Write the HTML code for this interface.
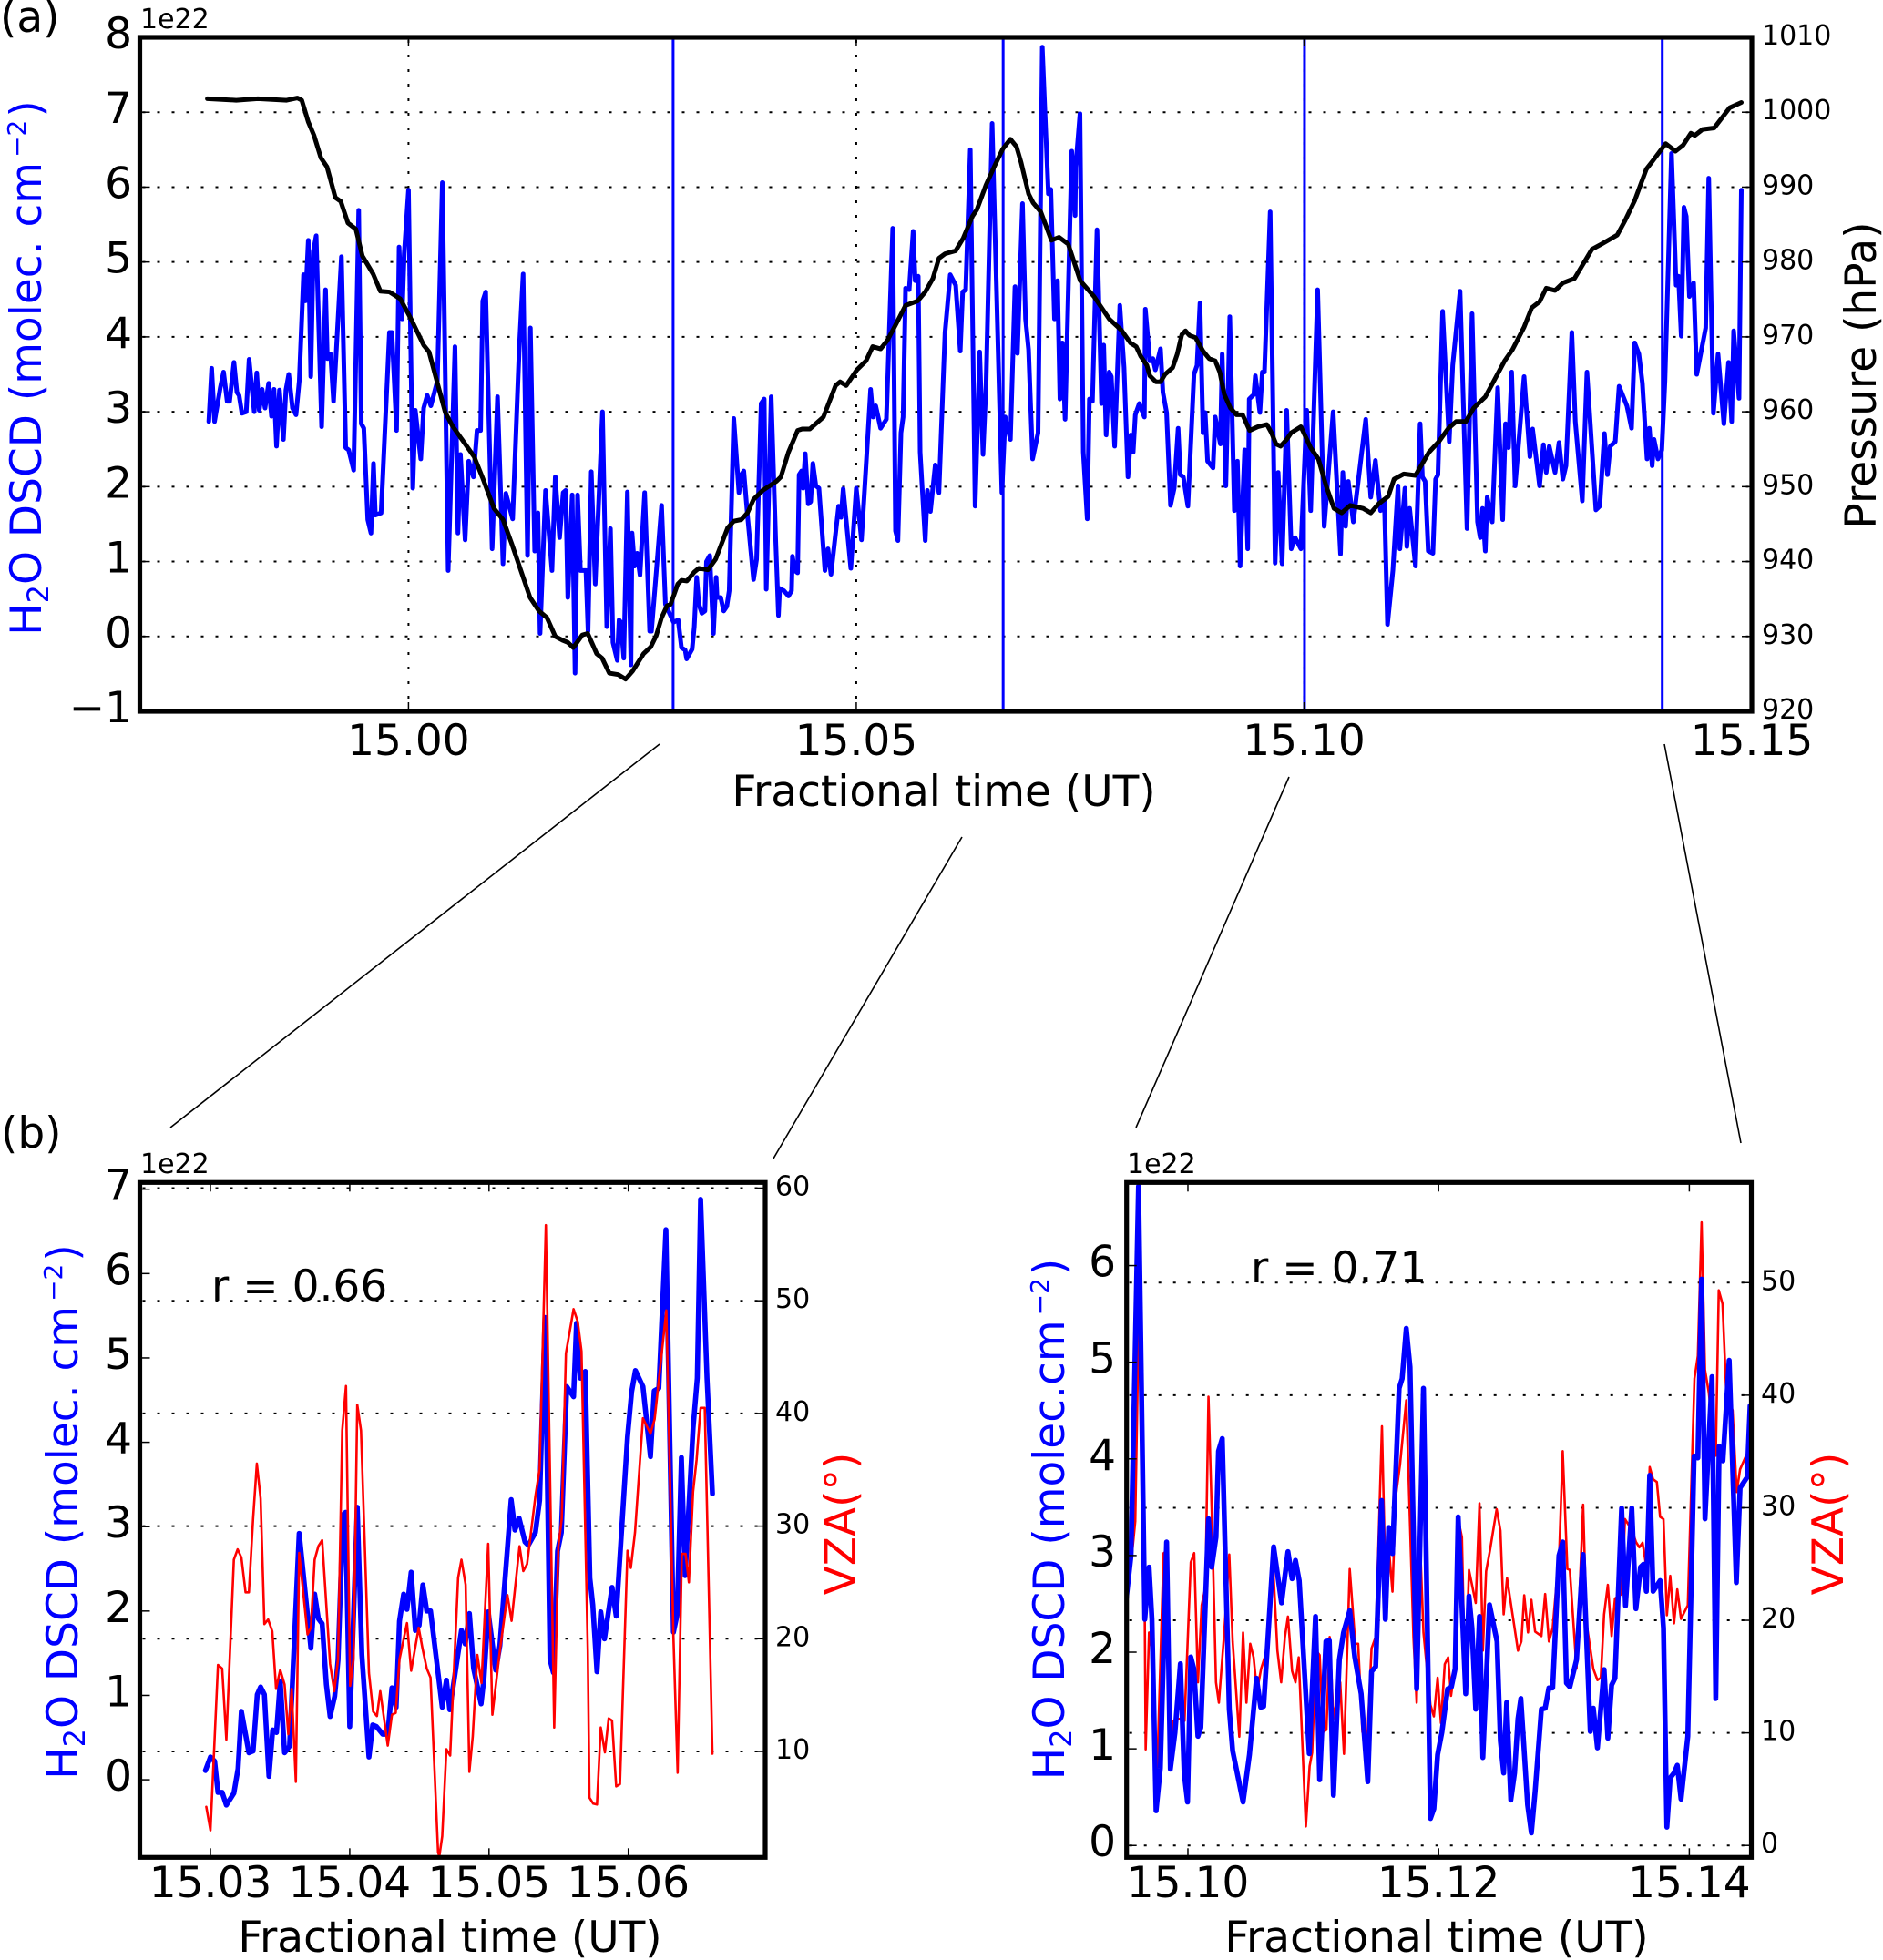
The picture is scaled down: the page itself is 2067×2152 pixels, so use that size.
<!DOCTYPE html>
<html lang="en">
<head>
<meta charset="utf-8">
<title>H2O DSCD, pressure and VZA time series</title>
<style>
html,body{margin:0;padding:0;background:#fff;}
svg{display:block;}
text{font-family:"DejaVu Sans","Liberation Sans",sans-serif;fill:#000;}
</style>
</head>
<body>
<svg id="figure" xmlns="http://www.w3.org/2000/svg" width="2067" height="2152" viewBox="0 0 2067 2152">
<rect x="0" y="0" width="2067" height="2152" fill="#fff"/>
<defs>
<clipPath id="clip-a"><rect x="153.5" y="41" width="1769.5" height="740"/></clipPath>
<clipPath id="clip-b1"><rect x="153.5" y="1298.3" width="686.5" height="741"/></clipPath>
<clipPath id="clip-b2"><rect x="1236.7" y="1298.3" width="685.8" height="741"/></clipPath>
</defs>

<text x="0" y="35" font-size="47">(a)</text>
<text x="1" y="1260" font-size="47">(b)</text>

<g id="panel-a"></g>
<g id="panel-b1"></g>
<g id="panel-b2"></g>

<text x="154" y="31" font-size="30">1e22</text>
<text x="154" y="1288" font-size="30">1e22</text>
<text x="1237" y="1288" font-size="30">1e22</text>

<text transform="translate(45,404) rotate(-90)" text-anchor="middle" font-size="47" style="fill:#0000ff">H<tspan font-size="32" dy="8" style="fill:#0000ff">2</tspan><tspan dy="-8" style="fill:#0000ff">O DSCD (molec. cm</tspan><tspan font-size="28" dy="-17" dx="5" style="fill:#0000ff">−2</tspan><tspan dy="17" dx="3" style="fill:#0000ff">)</tspan></text>
<text transform="translate(2059,412) rotate(-90)" text-anchor="middle" font-size="47">Pressure (hPa)</text>
<text x="1036" y="885" text-anchor="middle" font-size="47">Fractional time (UT)</text>

<text transform="translate(85,1660) rotate(-90)" text-anchor="middle" font-size="47" style="fill:#0000ff">H<tspan font-size="32" dy="8" style="fill:#0000ff">2</tspan><tspan dy="-8" style="fill:#0000ff">O DSCD (molec. cm</tspan><tspan font-size="28" dy="-17" dx="5" style="fill:#0000ff">−2</tspan><tspan dy="17" dx="3" style="fill:#0000ff">)</tspan></text>
<text transform="translate(1168,1668) rotate(-90)" text-anchor="middle" font-size="47" style="fill:#0000ff">H<tspan font-size="32" dy="8" style="fill:#0000ff">2</tspan><tspan dy="-8" style="fill:#0000ff">O DSCD (molec.cm</tspan><tspan font-size="28" dy="-17" dx="5" style="fill:#0000ff">−2</tspan><tspan dy="17" dx="3" style="fill:#0000ff">)</tspan></text>
<text transform="translate(939,1673) rotate(-90)" text-anchor="middle" font-size="47" style="fill:#ff0000">VZA(°)</text>
<text transform="translate(2023,1673) rotate(-90)" text-anchor="middle" font-size="47" style="fill:#ff0000">VZA(°)</text>
<text x="494" y="2143" text-anchor="middle" font-size="47">Fractional time (UT)</text>
<text x="1577" y="2143" text-anchor="middle" font-size="47">Fractional time (UT)</text>

<text x="232" y="1428" font-size="47">r = 0.66</text>
<text x="1373" y="1408" font-size="47">r = 0.71</text>

<line x1="724" y1="817" x2="187" y2="1238" stroke="#000" stroke-width="1.6"/>
<line x1="1056" y1="919" x2="849" y2="1272" stroke="#000" stroke-width="1.6"/>
<line x1="1415" y1="853" x2="1247" y2="1238" stroke="#000" stroke-width="1.6"/>
<line x1="1827" y1="817" x2="1911" y2="1255" stroke="#000" stroke-width="1.6"/>

<script>
// Times are thousandths of an hour after 15 UT. H2O values are in units of 1e22 molec/cm2.
const h2oTimeA = [
-22.30,-21.98,-21.66,-21.02,-20.65,-20.25,-19.97,-19.49,-19.16,-18.92,
-18.60,-18.12,-17.80,-17.23,-16.95,-16.67,-16.35,-16.02,-15.62,-15.30,
-15.02,-14.74,-14.41,-13.97,-13.69,-13.37,-12.96,-12.56,-12.20,-11.72,
-11.51,-11.19,-10.91,-10.63,-10.31,-9.70,-9.26,-9.06,-8.70,-8.37,
-7.49,-7.01,-6.68,-6.12,-5.56,-5.27,-4.99,-4.55,-4.19,-3.91,
-3.70,-3.06,-2.13,-1.85,-1.33,-1.05,-0.72,-0.48,0,0.48,
0.76,1.37,1.69,2.09,2.50,3.22,3.78,4.43,5.19,5.52,
5.80,6.32,6.72,7.25,7.65,8.05,8.29,8.62,9.34,9.94,
10.55,10.87,11.63,12.36,12.80,13.29,13.61,14.09,14.45,14.69,
15.30,16.02,16.39,16.87,17.27,17.55,17.79,18.28,18.60,18.88,
19.20,19.81,20.05,20.41,20.85,21.66,22.14,22.55,22.83,23.31,
23.51,23.71,24.04,24.44,24.84,24.96,25.24,25.52,25.85,26.37,
26.93,27.13,27.66,28.26,28.69,29.60,30.11,30.48,30.89,31.06,
31.67,31.91,32.18,32.42,32.76,33.10,33.27,33.64,34.05,34.35,
34.46,34.86,35.20,35.54,35.81,36.32,36.90,37.17,37.44,37.85,
38.53,38.87,39.38,39.72,39.95,40.50,41.01,41.31,41.45,41.92,
42.43,42.77,42.87,43.14,43.45,43.62,43.89,44.06,44.30,44.64,
44.91,45.15,45.49,45.83,46.50,46.84,47.18,48.03,48.30,48.54,
49.39,50.00,50.58,51.09,51.60,51.87,52.17,52.72,53.36,54.07,
54.38,54.65,54.99,55.23,55.50,55.91,56.35,56.58,56.92,57.13,
57.70,57.94,58.28,58.82,59.23,59.91,60.49,61.10,61.61,61.88,
62.22,62.73,63.27,63.78,64.15,64.49,65.17,66.26,66.63,67.21,
67.72,67.99,68.56,68.90,69.24,69.69,70.30,70.77,71.45,71.72,
72.13,72.47,72.74,73.01,73.32,74.06,74.44,74.50,74.98,75.35,
75.79,76.03,76.37,76.88,77.39,77.63,77.90,78.24,78.48,78.85,
79.43,79.90,80.34,80.65,80.92,81.16,81.60,82.17,82.28,82.78,
83.12,83.40,83.97,84.24,84.65,85.09,85.50,85.94,86.18,86.52,
87.03,87.71,88.05,88.38,88.72,88.96,89.23,89.84,90.08,90.66,
90.86,91.27,91.71,92.22,92.56,92.86,93.37,93.71,93.88,94.39,
94.56,95.07,95.34,95.58,96.22,96.77,97.11,97.55,98.06,98.57,
99.00,99.65,100.30,100.74,101.52,102.25,103.25,104.07,104.33,104.64,
104.94,105.50,106.89,107.45,107.97,108.54,108.97,109.32,109.92,110.49,
110.70,111.27,111.48,111.79,112.44,112.96,113.22,113.52,113.87,114.39,
114.69,114.95,115.47,116.21,116.60,117.42,118.20,118.76,119.37,119.67,
119.93,120.24,120.45,121.01,121.62,122.18,122.49,122.83,123.18,123.57,
124.57,125.22,125.52,126.30,126.73,127.04,127.38,128.03,128.47,128.90,
129.25,129.90,130.29,131.07,131.59,132.59,133.02,133.54,133.88,134.19,
134.75,135.18,136.05,136.57,136.92,137.39,137.78,138.30,138.56,138.87,
139.08,139.52,139.95,140.30,141.03,141.55,141.81,142.12,142.42,142.68,
143.03,143.50,143.85,144.85,145.19,145.71,146.23,146.88,147.40,147.75,
147.97,148.57,148.83];
const h2oValuesA = [
2.87,3.58,2.87,3.32,3.53,3.14,3.14,3.66,3.26,3.22,
2.98,3.00,3.70,3.00,3.52,3.02,3.30,3.05,3.38,2.94,
3.30,2.54,3.29,2.63,3.29,3.50,3.05,2.96,3.41,4.83,
4.48,5.29,3.47,5.14,5.35,2.80,4.63,3.71,3.77,3.14,
5.07,2.52,2.49,2.22,5.69,2.84,2.78,1.56,1.38,2.31,
1.62,1.65,4.06,4.06,2.75,5.20,4.24,5.11,5.96,1.98,
3.02,2.37,3.05,3.22,3.08,3.41,6.06,0.88,3.87,1.38,
2.43,1.29,2.34,2.13,2.75,2.75,4.48,4.60,1.17,3.20,
0.97,1.91,1.57,3.83,4.84,1.08,4.12,1.14,1.65,0.04,
1.95,0.88,2.13,1.32,1.92,1.95,0.52,1.89,-0.49,1.89,
0.88,0.88,0.07,2.20,0.70,3.00,0.13,1.44,-0.08,-0.32,
0.22,0.19,-0.29,1.93,-0.38,1.38,0.94,1.11,0.82,1.92,
0.07,0.07,0.85,1.75,0.43,0.19,0.22,-0.15,-0.18,-0.30,
-0.17,0.13,0.79,0.43,0.31,0.34,1.00,1.08,0.04,0.79,
0.52,0.52,0.34,0.40,0.61,2.91,1.92,2.16,2.21,1.62,
0.76,1.03,3.11,3.17,0.63,3.20,1.26,0.28,0.64,0.61,
0.54,0.61,1.07,0.88,0.85,2.16,2.21,1.98,2.44,1.77,
1.80,2.31,2.01,1.98,0.88,1.17,0.83,1.74,1.59,1.97,
0.91,1.98,1.29,2.28,3.30,2.93,3.08,2.78,2.90,5.45,
1.41,1.28,2.72,2.93,4.65,4.63,5.41,4.75,4.81,2.46,
1.28,1.95,1.67,2.29,1.92,4.06,4.83,4.69,3.81,4.60,
4.63,6.50,1.74,3.80,2.43,3.35,6.85,1.92,2.93,2.63,
4.67,3.78,5.78,4.24,3.83,2.37,2.72,7.87,5.91,5.97,
4.24,4.75,3.17,3.92,2.90,6.48,5.62,6.27,6.98,2.46,
1.57,3.17,3.14,5.43,3.11,3.89,2.69,3.53,3.47,2.54,
4.42,3.59,2.13,2.69,2.46,2.96,3.11,2.93,4.37,3.68,
3.71,3.56,3.84,3.26,2.99,1.75,1.98,2.78,2.16,2.13,
1.74,3.50,3.62,4.45,2.72,2.99,2.34,2.25,2.93,2.57,
3.77,2.01,4.27,1.68,2.34,0.94,2.49,1.17,3.17,3.23,
3.48,2.99,3.53,3.53,5.67,0.98,2.19,0.97,3.02,1.17,
1.32,1.17,3.02,1.68,4.63,1.47,3.00,1.10,2.19,1.47,
2.07,1.53,2.90,1.86,2.35,1.68,1.80,0.16,0.88,2.01,
1.17,1.98,1.20,1.71,0.94,2.84,2.13,2.07,1.14,1.11,
2.10,2.16,4.34,2.60,3.62,4.61,1.44,4.31,1.53,1.32,
1.71,1.14,1.86,1.53,3.32,1.56,2.84,2.52,3.53,2.01,
3.47,2.40,2.77,2.01,2.56,2.19,2.54,2.19,2.59,2.10,
2.28,4.06,2.87,1.81,3.53,1.69,1.74,2.71,2.16,2.54,
2.60,3.34,3.08,2.78,3.92,3.77,3.38,2.37,2.78,2.28,
2.63,2.37,2.49,3.41,6.45,4.69,4.81,4.01,5.73,5.61,
4.54,4.72,3.50,4.12,6.12,2.98,3.77,2.84,3.66,2.87,
4.08,3.18,5.96];

const pressureTimeA = [
-22.46,-19.24,-16.83,-13.61,-12.40,-11.92,-11.19,-10.55,-9.78,-9.10,
-8.17,-7.57,-6.76,-5.88,-5.15,-3.95,-3.14,-2.13,-0.93,0.28,
1.69,2.29,3.30,4.11,4.91,7.33,8.33,9.54,10.55,11.55,
13.57,14.57,15.46,16.39,17.19,17.79,18.40,19.41,20.01,21.01,
21.62,22.42,23.43,24.24,25.04,26.25,27.05,27.66,28.26,28.87,
29.27,30.07,30.48,31.08,31.91,32.42,33.44,34.29,35.64,36.32,
37.17,37.85,38.53,39.55,41.07,41.58,42.43,43.45,43.96,44.81,
46.33,47.69,48.20,48.88,50.07,51.09,51.83,52.72,53.46,54.48,
55.50,56.86,57.70,58.55,59.23,59.91,61.10,61.95,62.97,63.47,
64.49,65.51,66.36,67.21,67.89,68.40,69.24,69.75,70.60,71.79,
72.64,73.66,75.01,76.54,78.24,79.60,80.61,81.26,81.77,82.45,
82.78,83.46,83.97,84.48,85.33,85.84,86.35,86.76,87.20,87.88,
88.72,89.40,90.08,90.59,91.10,91.78,92.46,93.14,93.92,94.83,
95.85,96.36,96.87,97.38,98.06,98.57,99.65,100.74,101.60,102.47,
103.34,104.20,105.16,106.59,107.45,108.32,109.40,110.05,111.14,112.44,
113.95,115.04,116.12,116.99,118.07,118.94,120.24,122.40,123.27,124.57,
125.43,126.30,127.04,128.03,128.90,130.20,132.15,133.23,134.97,135.83,
136.92,138.22,138.87,140.38,141.47,142.33,143.20,143.63,144.50,145.80,
147.53,148.83];
const pressureValuesA = [
1001.8,1001.6,1001.8,1001.6,1001.9,1001.6,998.7,996.9,993.9,992.7,
988.6,988.1,985.2,984.4,980.8,978.4,976.1,976.0,975.1,972.4,
968.9,968.0,963.5,959.9,958.1,954.0,951.0,947.1,945.6,942.3,
935.2,933.4,932.5,930.0,929.5,929.2,928.5,930.2,930.4,927.7,
927.1,925.1,924.9,924.3,925.4,927.7,928.6,930.1,932.5,934.1,
934.3,937.0,937.5,937.4,938.6,939.1,938.9,940.3,944.5,945.4,
945.6,946.5,948.3,949.5,950.7,951.3,954.6,957.5,957.7,957.7,
959.3,963.5,964.0,963.5,965.6,966.8,968.7,968.4,969.5,971.8,
974.2,974.8,976.0,977.8,980.5,981.1,981.5,983.2,986.1,987.0,
990.3,993.0,995.1,996.4,995.4,993.3,989.1,987.9,986.7,982.9,
983.3,982.4,977.5,975.4,972.4,970.9,969.2,968.7,967.4,966.2,
964.8,964.0,964.0,965.0,965.9,967.7,970.3,970.8,970.2,969.9,
968.1,967.1,966.8,965.3,962.3,960.5,959.6,959.6,957.5,958.0,
958.3,957.2,955.7,955.4,956.3,957.2,958.0,955.2,953.7,950.1,
947.1,946.5,947.5,947.1,946.5,947.7,948.7,951.0,951.7,951.5,
954.6,956.0,957.8,958.7,958.7,960.5,962.0,966.8,968.3,971.3,
973.9,974.7,976.5,976.2,977.2,977.8,981.7,982.4,983.6,985.5,
988.2,992.4,993.4,995.8,994.8,995.6,997.2,996.9,997.7,997.9,
1000.6,1001.3];

const windowBoundsA = [29.55, 66.4, 100.05, 140.0];

const h2oTimeLeft = [
29.64,30.00,30.30,30.54,30.84,31.14,31.68,31.98,32.22,32.76,
33.06,33.36,33.60,33.87,34.20,34.47,34.74,35.01,35.32,35.68,
36.37,37.21,37.48,37.75,38.02,38.32,38.59,38.92,39.16,39.52,
39.70,40.00,40.54,40.87,41.38,41.65,41.92,42.37,42.73,43.03,
43.33,43.57,43.87,44.11,44.41,44.71,44.98,45.25,45.53,45.80,
46.64,46.94,47.18,48.02,48.29,48.59,48.89,49.43,49.64,49.94,
50.48,50.78,51.23,51.59,51.86,52.16,52.58,52.82,53.33,53.63,
54.02,54.38,54.62,54.92,55.19,55.58,56.07,56.28,56.55,56.91,
57.24,57.45,57.75,58.02,58.29,58.83,59.13,59.94,60.24,60.51,
61.05,61.59,61.86,62.19,62.70,63.24,63.51,63.81,64.08,64.65,
64.95,65.19,65.65,66.04];
const h2oValuesLeft = [
0.11,0.27,0.22,-0.15,-0.15,-0.30,-0.16,0.13,0.81,0.32,
0.34,1.01,1.10,1.01,0.04,0.59,0.56,1.17,0.32,0.40,
2.92,1.56,2.20,1.91,1.85,1.13,0.75,0.99,1.42,3.14,
3.17,0.63,3.23,1.48,0.27,0.65,0.63,0.54,0.54,1.09,
0.86,1.88,2.20,2.02,2.46,1.77,1.83,2.31,2.00,2.00,
0.86,1.18,0.83,1.77,1.61,1.97,1.32,0.90,1.21,1.99,
1.30,1.59,2.55,3.32,2.96,3.10,2.82,2.78,2.93,3.31,
5.48,1.42,1.27,2.71,2.93,4.66,4.54,5.41,4.76,4.84,
2.39,2.07,1.28,1.99,1.67,2.28,1.94,4.06,4.60,4.85,
4.66,3.83,4.61,4.64,6.52,1.75,1.96,3.82,2.42,4.17,
4.76,6.88,4.76,3.39];

const vzaTimeLeft = [
29.70,30.00,30.54,30.84,31.14,31.68,31.95,32.22,32.52,32.76,
33.06,33.33,33.60,33.87,34.14,34.44,34.71,35.01,35.32,35.59,
35.83,36.13,36.37,36.97,37.21,37.48,37.75,38.02,38.59,38.89,
39.16,39.46,39.73,40.03,40.27,40.54,40.81,41.38,41.68,41.95,
42.19,42.73,43.03,43.30,43.57,44.11,44.41,44.95,45.22,45.53,
45.80,46.34,46.43,46.64,46.94,47.21,47.78,48.02,48.32,48.59,
48.83,49.16,49.46,49.94,50.24,50.78,51.32,51.62,52.19,52.46,
52.73,53.33,53.63,54.08,54.68,54.98,55.22,55.52,56.07,56.37,
56.64,57.09,57.21,57.48,57.75,58.02,58.32,58.59,58.83,59.13,
59.40,59.94,60.18,60.48,61.05,61.59,61.89,62.73,63.24,63.54,
63.84,64.11,64.35,64.65,64.90,65.19,65.49,66.04];
const vzaValuesLeft = [
5.09,3.00,17.68,17.36,11.05,27.02,27.94,27.22,24.12,24.12,
30.64,35.55,32.45,21.30,21.71,20.66,15.55,17.24,15.95,11.53,
15.55,7.30,27.62,20.38,20.98,27.02,28.22,28.75,17.76,15.35,
18.17,38.48,42.43,15.83,18.17,40.78,38.48,16.96,13.54,13.14,
15.35,10.52,13.26,13.42,18.17,21.39,17.16,20.98,19.17,17.36,
16.56,1.07,0.67,2.48,10.20,9.64,25.41,27.02,24.80,8.19,
11.33,18.57,16.07,28.43,13.26,18.97,23.88,21.59,28.22,26.01,
26.62,32.65,35.06,56.71,12.13,28.22,30.64,45.32,49.26,48.14,
45.52,18.97,5.90,5.37,5.29,12.13,9.92,12.94,12.74,6.90,
7.10,27.82,26.29,29.43,39.57,38.20,39.49,49.14,20.18,8.11,
27.54,27.54,25.01,33.05,35.87,40.49,40.49,9.80];

const h2oTimeRight = [
95.06,95.46,96.06,96.56,96.90,97.13,97.46,97.80,98.30,98.60,
98.97,99.40,99.70,99.97,100.23,100.47,100.80,101.03,101.64,101.90,
102.24,102.44,102.74,103.30,103.57,104.40,104.91,105.47,105.81,106.04,
106.84,107.47,107.98,108.31,108.58,108.88,109.68,110.18,110.51,111.01,
111.28,111.61,112.08,112.41,112.91,113.31,113.82,114.35,114.65,114.98,
115.45,115.75,116.02,116.32,116.85,117.09,117.42,117.72,118.25,118.79,
119.35,119.62,119.92,120.26,120.72,121.02,121.32,121.56,122.16,122.42,
122.66,122.96,123.26,123.53,124.06,124.66,124.93,125.19,125.43,125.76,
126.06,126.33,126.56,127.10,127.40,127.70,128.20,128.50,128.80,129.10,
129.60,129.90,130.20,130.47,131.00,131.53,132.10,132.34,132.67,133.20,
133.50,133.80,134.07,134.60,134.91,135.41,135.74,136.11,136.34,136.57,
136.84,137.11,137.67,137.94,138.21,138.48,138.78,139.04,139.34,139.88,
140.38,140.68,140.98,141.25,141.81,142.11,142.38,142.68,143.18,143.75,
144.05,144.61,144.85];
const h2oValuesRight = [
2.53,3.00,6.82,2.34,2.88,2.34,0.36,0.80,3.14,0.79,
1.17,1.88,0.75,0.45,1.95,1.83,1.13,1.22,3.38,2.88,
3.19,4.08,4.21,1.41,0.98,0.45,0.94,1.73,1.43,1.44,
3.09,2.51,3.04,2.76,2.95,2.74,0.95,2.37,0.68,2.11,
2.12,0.52,1.92,2.20,2.43,1.95,1.57,0.66,1.80,1.85,
3.57,2.34,3.29,3.02,4.73,4.83,5.35,4.95,1.62,4.73,
0.28,0.38,0.94,1.17,1.62,1.64,1.83,3.40,1.57,2.58,
2.25,1.41,2.37,0.91,2.49,2.11,1.08,0.75,1.48,0.47,
0.75,1.31,1.52,0.42,0.13,0.56,1.41,1.42,1.63,1.63,
3.00,3.14,1.68,1.64,1.92,3.01,1.18,1.42,1.01,1.82,
1.11,1.66,1.73,3.49,2.48,3.49,2.45,2.88,2.91,2.63,
3.83,2.63,2.74,2.25,0.19,0.70,0.75,0.83,0.48,1.13,
4.03,4.01,5.86,3.38,4.85,1.52,4.13,3.98,5.02,2.72,
3.70,3.81,4.55];

const vzaTimeRight = [
95.06,95.46,95.80,96.10,96.56,96.63,96.90,97.13,97.46,98.06,
98.30,98.60,98.83,99.23,99.73,100.23,100.50,100.80,101.10,101.40,
101.64,101.90,102.24,102.47,102.90,103.30,103.57,104.10,104.40,104.67,
104.97,105.24,105.51,105.84,106.24,106.81,107.14,107.44,107.74,107.98,
108.31,108.58,108.84,109.41,109.71,109.91,110.24,110.51,110.78,111.05,
111.31,111.61,112.15,112.45,112.91,113.35,113.58,113.92,114.32,114.65,
114.98,115.48,115.78,116.08,116.32,116.58,116.92,117.42,117.99,118.25,
118.52,118.79,119.35,119.62,119.92,120.19,120.49,120.76,120.99,121.29,
121.56,121.86,122.12,122.42,122.96,123.26,123.53,123.79,124.09,124.63,
124.93,125.19,125.46,126.06,126.33,126.60,126.83,127.13,127.40,127.70,
128.20,128.50,128.80,129.10,129.63,129.90,130.27,130.47,131.00,131.53,
131.80,132.34,132.67,132.94,133.20,133.50,133.80,134.07,134.60,134.87,
135.44,135.74,136.01,136.27,136.57,136.84,137.11,137.41,137.67,137.94,
138.21,138.48,138.78,139.04,139.34,139.88,140.41,140.68,140.98,141.25,
141.55,142.11,142.35,142.65,142.95,143.45,143.78,144.05,144.61,144.85];
const vzaValuesRight = [
24.96,24.96,28.79,48.31,20.13,8.54,18.92,17.31,3.22,25.97,
26.17,6.84,11.07,11.27,11.07,25.16,25.97,14.49,21.34,22.95,
39.86,29.79,14.49,12.68,18.92,25.85,18.12,9.66,18.92,12.68,
17.92,16.71,13.69,15.70,17.11,24.56,17.31,14.49,18.52,20.33,
15.50,14.49,16.71,1.69,7.05,8.25,17.31,16.91,10.07,10.27,
18.52,11.27,14.49,8.13,24.56,17.92,17.92,10.07,9.66,17.51,
18.52,37.24,22.55,25.77,22.55,31.00,33.82,39.54,18.52,12.68,
26.97,18.92,12.48,11.47,14.90,10.87,16.10,16.71,13.29,15.70,
28.99,27.38,13.69,24.48,21.54,30.40,17.31,24.36,26.17,29.87,
27.98,20.53,23.75,19.32,17.31,18.12,22.22,18.92,21.82,19.00,
18.60,22.34,18.12,19.32,26.17,35.03,24.56,24.48,15.70,30.28,
19.73,15.70,14.69,14.90,20.53,23.15,18.60,21.94,22.34,28.99,
27.98,26.97,26.49,26.89,24.76,33.62,32.53,32.29,29.19,28.99,
20.45,23.95,19.73,22.75,20.13,21.34,41.47,43.48,55.36,42.27,
40.26,34.62,49.32,48.11,40.26,38.65,31.40,33.42,34.82,35.43];

const xTicksA = [15.00, 15.05, 15.10, 15.15];
const xTickLabelsA = ['15.00', '15.05', '15.10', '15.15'];
const yTicksA = [-1, 0, 1, 2, 3, 4, 5, 6, 7, 8];
const yTickLabelsA = ['−1', '0', '1', '2', '3', '4', '5', '6', '7', '8'];
const pressureTicks = [920, 930, 940, 950, 960, 970, 980, 990, 1000, 1010];
const xTicksLeft = [15.03, 15.04, 15.05, 15.06];
const xTickLabelsLeft = ['15.03', '15.04', '15.05', '15.06'];
const yTicksLeft = [0, 1, 2, 3, 4, 5, 6, 7];
const vzaTicksLeft = [10, 20, 30, 40, 50, 60];
const xTicksRight = [15.10, 15.12, 15.14];
const xTickLabelsRight = ['15.10', '15.12', '15.14'];
const yTicksRight = [0, 1, 2, 3, 4, 5, 6];
const vzaTicksRight = [0, 10, 20, 30, 40, 50];

const SVG_NS = 'http://www.w3.org/2000/svg';

function node(tag, parent, attrs, content) {
  const el = document.createElementNS(SVG_NS, tag);
  for (const k in attrs) el.setAttribute(k, attrs[k]);
  if (content !== undefined) el.textContent = content;
  parent.appendChild(el);
  return el;
}
function scale(d0, d1, r0, r1) {
  return function (v) { return r0 + (v - d0) * (r1 - r0) / (d1 - d0); };
}
function hours(offset) { return 15 + offset / 1000; }
function linePath(times, values, sx, sy) {
  const n = Math.min(times.length, values.length);
  let d = '';
  for (let i = 0; i < n; i++) {
    d += (i ? 'L' : 'M') + sx(hours(times[i])).toFixed(2) + ' ' + sy(values[i]).toFixed(2);
  }
  return d;
}
function drawSeries(group, clipId, name, times, values, sx, sy, color, width) {
  const el = node('path', group, {
    d: linePath(times, values, sx, sy), fill: 'none', stroke: color,
    'stroke-width': width, 'stroke-linejoin': 'round', 'stroke-linecap': 'round',
    'clip-path': 'url(#' + clipId + ')'
  });
  
  
}
function drawHGrid(group, ticks, sy, box, prefix) {
  ticks.forEach(function (t) {
    const y = sy(t);
    if (y < box.top + 1 || y > box.bottom - 1) return;
    const el = node('line', group, {
      x1: box.left + 3, x2: box.right - 3, y1: y, y2: y,
      stroke: '#000', 'stroke-width': 2, 'stroke-dasharray': '3 13'
    });
    
    
  });
}
function drawXTicks(group, ticks, labels, sx, box, prefix, baseline) {
  ticks.forEach(function (t, i) {
    const x = sx(t);
    const b = node('line', group, { x1: x, x2: x, y1: box.bottom, y2: box.bottom - 10, stroke: '#000', 'stroke-width': 1.5 });
    
    
    const u = node('line', group, { x1: x, x2: x, y1: box.top, y2: box.top + 10, stroke: '#000', 'stroke-width': 1.5 });
    
    
    const l = node('text', group, { x: x, y: baseline, 'text-anchor': 'middle', 'font-size': 47 }, labels[i]);
    
    
  });
}
function drawLeftTicks(group, ticks, labels, sy, box, prefix, labelX) {
  ticks.forEach(function (t, i) {
    const y = sy(t);
    const m = node('line', group, { x1: box.left, x2: box.left + 11, y1: y, y2: y, stroke: '#000', 'stroke-width': 1.5 });
    
    
    const l = node('text', group, { x: labelX, y: y + 12, 'text-anchor': 'end', 'font-size': 47 }, labels[i]);
    
    
  });
}
function drawRightTicks(group, ticks, sy, box, prefix, labelX) {
  ticks.forEach(function (t) {
    const y = sy(t);
    const m = node('line', group, { x1: box.right, x2: box.right - 11, y1: y, y2: y, stroke: '#000', 'stroke-width': 1.5 });
    
    
    const l = node('text', group, { x: labelX, y: y + 8, 'font-size': 30 }, String(t));
    
    
  });
}
function drawFrame(group, box, prefix) {
  const r = node('rect', group, {
    x: box.left, y: box.top, width: box.right - box.left, height: box.bottom - box.top,
    fill: 'none', stroke: '#000', 'stroke-width': 5.2, 'stroke-linejoin': 'miter'
  });
  
  
}

// Panel (a)
(function () {
  const g = document.getElementById('panel-a');
  const box = { left: 153.5, right: 1923, top: 41, bottom: 781 };
  const sx = scale(14.97, 15.15, box.left, box.right);
  const sy = scale(-1, 8, box.bottom, box.top);
  const sp = scale(920, 1010, box.bottom, box.top);
  drawHGrid(g, yTicksA, sy, box, 'panel-a');
  xTicksA.forEach(function (t) {
    if (sx(t) > box.right - 2) return;
    const el = node('line', g, {
      x1: sx(t), x2: sx(t), y1: box.top + 3, y2: box.bottom - 3,
      stroke: '#000', 'stroke-width': 2, 'stroke-dasharray': '3 13'
    });
    
    
  });
  drawSeries(g, 'clip-a', 'h2o-dscd-line', h2oTimeA, h2oValuesA, sx, sy, '#0000ff', 5);
  windowBoundsA.forEach(function (t) {
    const el = node('line', g, {
      x1: sx(hours(t)), x2: sx(hours(t)), y1: box.top, y2: box.bottom,
      stroke: '#0000ff', 'stroke-width': 3
    });
    
    
  });
  drawSeries(g, 'clip-a', 'pressure-line', pressureTimeA, pressureValuesA, sx, sp, '#000000', 5);
  drawXTicks(g, xTicksA, xTickLabelsA, sx, box, 'panel-a', 829);
  drawLeftTicks(g, yTicksA, yTickLabelsA, sy, box, 'panel-a', 145);
  drawRightTicks(g, pressureTicks, sp, box, 'panel-a', 1934);
  drawFrame(g, box, 'panel-a');
})();

// Panel (b) left
(function () {
  const g = document.getElementById('panel-b1');
  const box = { left: 153.5, right: 840, top: 1298.3, bottom: 2039.3 };
  const sx = scale(15.02493, 15.06983, box.left, box.right);
  const sy = scale(-0.92, 7.08, box.bottom, box.top);
  const sv = scale(0.6, 60.5, box.bottom, box.top);
  drawHGrid(g, vzaTicksLeft, sv, box, 'panel-b-left');
  drawSeries(g, 'clip-b1', 'h2o-dscd-line-left', h2oTimeLeft, h2oValuesLeft, sx, sy, '#0000ff', 5.6);
  drawSeries(g, 'clip-b1', 'vza-line-left', vzaTimeLeft, vzaValuesLeft, sx, sv, '#ff0000', 2.6);
  drawXTicks(g, xTicksLeft, xTickLabelsLeft, sx, box, 'panel-b-left', 2083);
  drawLeftTicks(g, yTicksLeft, yTicksLeft.map(String), sy, box, 'panel-b-left', 145);
  drawRightTicks(g, vzaTicksLeft, sv, box, 'panel-b-left', 851);
  drawFrame(g, box, 'panel-b-left');
})();

// Panel (b) right
(function () {
  const g = document.getElementById('panel-b2');
  const box = { left: 1236.7, right: 1922.5, top: 1298.3, bottom: 2039.3 };
  const sx = scale(15.09511, 15.14495, box.left, box.right);
  const sy = scale(-0.123, 6.86, box.bottom, box.top);
  const sv = scale(-1.06, 58.9, box.bottom, box.top);
  drawHGrid(g, vzaTicksRight, sv, box, 'panel-b-right');
  drawSeries(g, 'clip-b2', 'vza-line-right', vzaTimeRight, vzaValuesRight, sx, sv, '#ff0000', 2.6);
  drawSeries(g, 'clip-b2', 'h2o-dscd-line-right', h2oTimeRight, h2oValuesRight, sx, sy, '#0000ff', 5.6);
  drawXTicks(g, xTicksRight, xTickLabelsRight, sx, box, 'panel-b-right', 2083);
  drawLeftTicks(g, yTicksRight, yTicksRight.map(String), sy, box, 'panel-b-right', 1225);
  drawRightTicks(g, vzaTicksRight, sv, box, 'panel-b-right', 1933);
  drawFrame(g, box, 'panel-b-right');
})();
</script>
</svg>
</body>
</html>
